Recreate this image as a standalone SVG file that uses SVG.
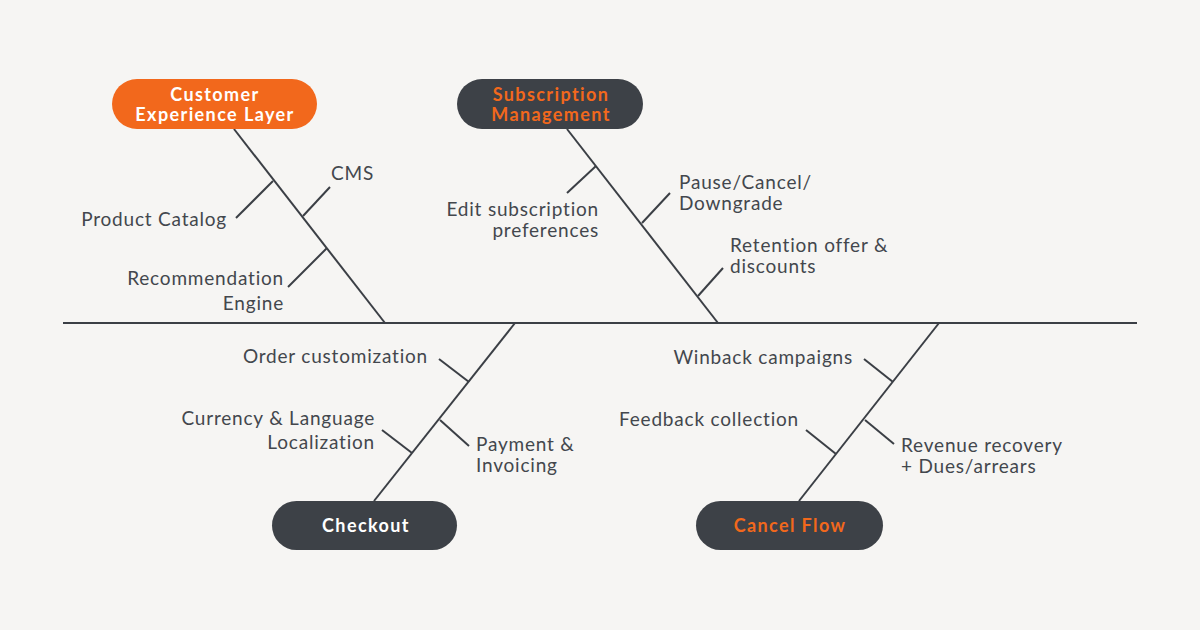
<svg xmlns="http://www.w3.org/2000/svg" width="1200" height="630" viewBox="0 0 1200 630">
<style>
.bone{stroke:#3b3f45;stroke-width:2;fill:none;stroke-linecap:butt}
.lbl{font-family:Lato,"Noto Sans",sans-serif;font-size:19px;letter-spacing:0.8px;fill:#43474d}
.r{text-anchor:end}
.hd{font-family:Lato,"Noto Sans",sans-serif;font-size:18px;letter-spacing:1.4px;font-weight:bold;text-anchor:middle}
.dark{fill:#3d4147}
.org{fill:#f2681c}
.w{fill:#ffffff}
</style>
<rect width="1200" height="630" fill="#f6f5f3"/>
<g id="connectors">
<line class="bone" x1="63" y1="323" x2="1137" y2="323"/>
<line class="bone" x1="234" y1="129" x2="385" y2="323"/>
<line class="bone" x1="273" y1="181" x2="236" y2="218"/>
<line class="bone" x1="303" y1="216" x2="330" y2="187"/>
<line class="bone" x1="327" y1="248" x2="288" y2="287"/>
<line class="bone" x1="567" y1="129" x2="718" y2="323"/>
<line class="bone" x1="596" y1="166" x2="567" y2="193"/>
<line class="bone" x1="642" y1="223" x2="670" y2="193"/>
<line class="bone" x1="698" y1="296" x2="723" y2="268"/>
<line class="bone" x1="515" y1="323" x2="374" y2="501"/>
<line class="bone" x1="469" y1="382" x2="439" y2="359"/>
<line class="bone" x1="440" y1="420" x2="469" y2="446"/>
<line class="bone" x1="412" y1="453" x2="382" y2="430"/>
<line class="bone" x1="939" y1="323" x2="799" y2="501"/>
<line class="bone" x1="893" y1="382" x2="864" y2="359"/>
<line class="bone" x1="865" y1="420" x2="894" y2="444"/>
<line class="bone" x1="836" y1="454" x2="806" y2="430"/>
</g>
<g id="customer-experience-layer">
<rect x="112" y="79" width="205" height="50" rx="25" class="org"/>
<text class="hd w" x="215" y="101">Customer</text>
<text class="hd w" x="215" y="121">Experience Layer</text>
</g>
<g id="subscription-management">
<rect x="457" y="79" width="186" height="50" rx="25" class="dark"/>
<text class="hd org" x="551" y="101">Subscription</text>
<text class="hd org" x="551" y="121">Management</text>
</g>
<g id="checkout">
<rect x="272" y="501" width="185" height="49" rx="24.5" class="dark"/>
<text class="hd w" x="366" y="532">Checkout</text>
</g>
<g id="cancel-flow">
<rect x="696" y="501" width="187" height="49" rx="24.5" class="dark"/>
<text class="hd org" x="790" y="532">Cancel Flow</text>
</g>
<g id="labels">
<text class="lbl r" x="227" y="226">Product Catalog</text>
<text class="lbl" x="331" y="180">CMS</text>
<text class="lbl r" x="284" y="285">Recommendation</text>
<text class="lbl r" x="284" y="310">Engine</text>
<text class="lbl r" x="599" y="216">Edit subscription</text>
<text class="lbl r" x="599" y="237">preferences</text>
<text class="lbl" x="679" y="189">Pause/Cancel/</text>
<text class="lbl" x="679" y="210">Downgrade</text>
<text class="lbl" x="730" y="252">Retention offer &amp;</text>
<text class="lbl" x="730" y="273">discounts</text>
<text class="lbl r" x="428" y="363">Order customization</text>
<text class="lbl r" x="375" y="425">Currency &amp; Language</text>
<text class="lbl r" x="375" y="449">Localization</text>
<text class="lbl" x="476" y="451">Payment &amp;</text>
<text class="lbl" x="476" y="472">Invoicing</text>
<text class="lbl r" x="853" y="364">Winback campaigns</text>
<text class="lbl r" x="799" y="426">Feedback collection</text>
<text class="lbl" x="901" y="452">Revenue recovery</text>
<text class="lbl" x="901" y="473">+ Dues/arrears</text>
</g>
</svg>
